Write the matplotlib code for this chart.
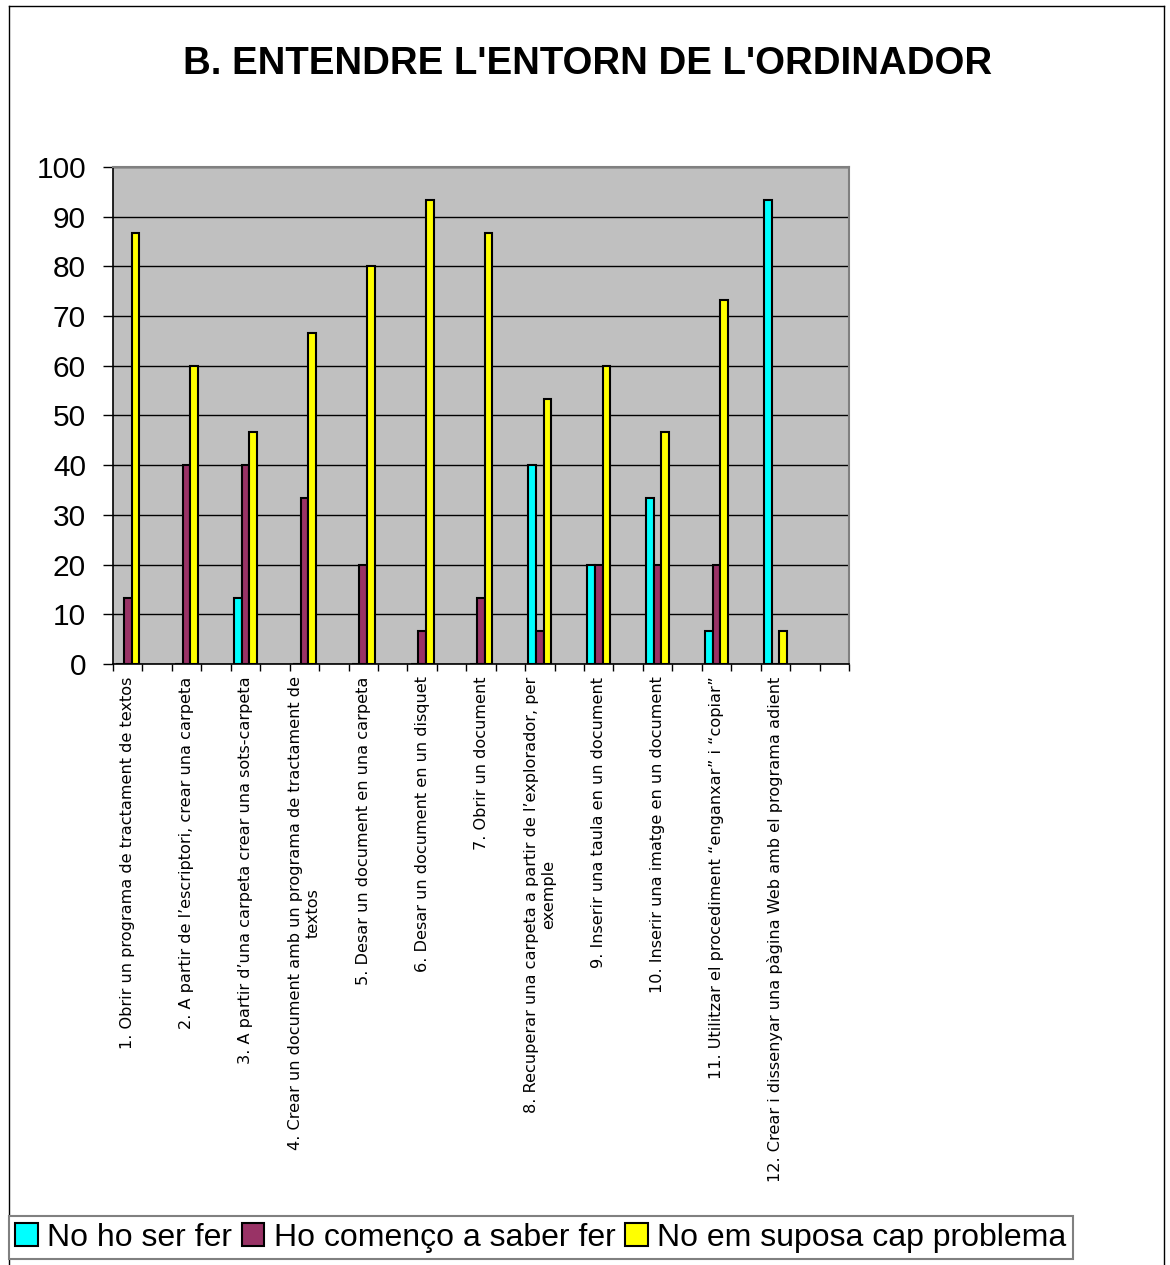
import numpy as np
import matplotlib.pyplot as plt
from matplotlib.patches import Patch
from matplotlib.lines import Line2D

# Data
labels = [
    "1. Obrir un programa de tractament de textos",
    "2. A partir de l\u2019escriptori, crear una carpeta",
    "3. A partir d\u2019una carpeta crear una sots-carpeta",
    "4. Crear un document amb un programa de tractament de\ntextos",
    "5. Desar un document en una carpeta",
    "6. Desar un document en un disquet",
    "7. Obrir un document",
    "8. Recuperar una carpeta a partir de l\u2019explorador, per\nexemple",
    "9. Inserir una taula en un document",
    "10. Inserir una imatge en un document",
    "11. Utilitzar el procediment \u201cenganxar\u201d i \u201ccopiar\u201d",
    "12. Crear i dissenyar una p\u00e0gina Web amb el programa adient",
]
no_ho_se = [0, 0, 13.3, 0, 0, 0, 0, 40, 20, 33.3, 6.7, 93.3]
comenco = [13.3, 40, 40, 33.3, 20, 6.7, 13.3, 6.7, 20, 20, 20, 0]
cap_problema = [86.7, 60, 46.7, 66.7, 80, 93.3, 86.7, 53.3, 60, 46.7, 73.3, 6.7]

series_names = ["No ho ser fer", "Ho començo a saber fer", "No em suposa cap problema"]
colors = ["#00FFFF", "#993366", "#FFFF00"]

W, H = 1170, 1265
fig = plt.figure(figsize=(W / 100, H / 100), dpi=100)
plt.rcParams['font.family'] = ['Liberation Sans', 'DejaVu Sans']

ax = fig.add_axes([113 / W, 1 - 664 / H, (849 - 113) / W, (664 - 167) / H])
ax.set_facecolor("#C0C0C0")

# 25 category slots, groups in even slots
x = np.arange(len(labels)) * 2
bw = 0.26
for i, (vals, c) in enumerate(zip([no_ho_se, comenco, cap_problema], colors)):
    ax.bar(x + (i - 1) * bw, vals, width=bw, color=c, edgecolor="black",
           linewidth=1.5, zorder=3)

ax.set_xlim(-0.5, 24.5)
ax.set_ylim(0, 100)
ax.set_yticks(range(0, 101, 10))
ax.yaxis.grid(True, color="black", linewidth=1.0, zorder=1)
ax.set_axisbelow(True)
ax.tick_params(axis="y", labelsize=21.5, length=7.5, width=1.0, pad=12, direction="out")

ax.set_xticks(x)
ax.set_xticklabels(labels, rotation=90, fontsize=11.6, family="DejaVu Sans",
                   ha="center", va="top", multialignment="center")
ax.set_xticks(np.arange(-0.5, 25, 1), minor=True)
ax.tick_params(axis="x", which="major", length=0, pad=9)
ax.tick_params(axis="x", which="minor", length=5, width=1.0, direction="out")

for s in ["left", "bottom"]:
    ax.spines[s].set_color("black")
    ax.spines[s].set_linewidth(1.2)
for s in ["top", "right"]:
    ax.spines[s].set_color("#808080")
    ax.spines[s].set_linewidth(1.5)

fig.text(588 / W, 1 - 64 / H, "B. ENTENDRE L'ENTORN DE L'ORDINADOR",
         ha="center", va="center", fontsize=27.6, fontweight="bold")

# outer border of the chart
for xs, ys in [([9, 9], [6, H + 5]), ([9, 1164], [6, 6]), ([1164, 1164], [6, H + 5])]:
    fig.add_artist(Line2D([v / W for v in xs], [1 - v / H for v in ys],
                          color="black", linewidth=1.0, transform=fig.transFigure))

handles = [Patch(facecolor=c, edgecolor="black", linewidth=1.5) for c in colors]
leg = fig.legend(handles, series_names, loc="lower left", ncol=3,
                 bbox_to_anchor=(9 / W, 1 - 1259 / H), fontsize=23,
                 handlelength=0.7, handleheight=0.7, handletextpad=0.3,
                 columnspacing=0.3, borderpad=0.2, borderaxespad=0,
                 fancybox=False, framealpha=1)
leg.get_frame().set_edgecolor("#808080")
leg.get_frame().set_linewidth(1.5)

fig.savefig("out.png", dpi=100)
